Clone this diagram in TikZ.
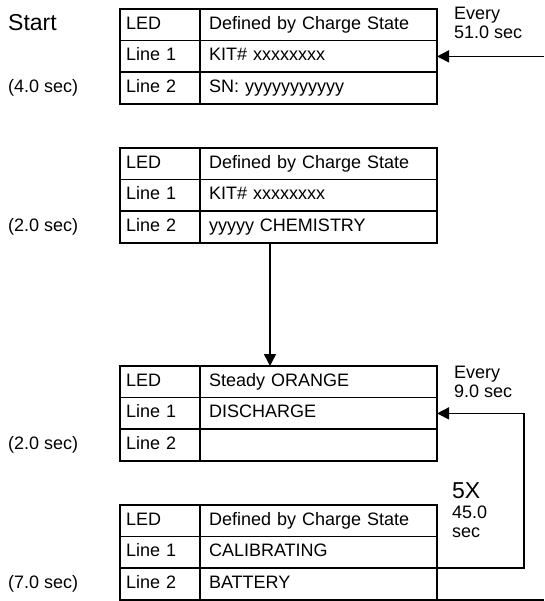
\documentclass[tikz,border=0pt]{standalone}
\usepackage{fontspec}
\setmainfont{Liberation Sans}
\usetikzlibrary{positioning}
\usetikzlibrary{arrows.meta}

\begin{document}
\begin{tikzpicture}[x=1pt,y=-1pt,node distance=0pt]
  \tikzstyle{keycell}=[rectangle,draw=black,line width=1.5pt,outer sep=0pt,inner xsep=6pt,inner ysep=0pt, minimum height=31.6pt, text width=68pt, text height=13pt, text depth=4pt, align=left, font=\fontsize{18}{20}\selectfont ]
  \tikzstyle{valcell}=[keycell, inner xsep=9pt, text width=219pt ]
  \tikzstyle{comment}=[inner sep=0pt, align=left, font=\fontsize{18}{19}\selectfont ]
  \tikzstyle{flow}=[line width=1.5pt, -{Triangle[length=12pt,width=12pt]} ]

  \useasboundingbox (0,0) rectangle (544,601);

  % first screen
  \node[keycell,anchor=north west] at (120,9) (A0) { LED };
  \node[valcell] (A0x) [right=of A0] { Defined by Charge State };
  \node[keycell] (A1) [below=of A0]  { Line 1 };
  \node[valcell] (A1x) [right=of A1] { KIT\# xxxxxxxx };
  \node[keycell] (A2) [below=of A1]  { Line 2 };
  \node[valcell] (A2x) [right=of A2] { SN: yyyyyyyyyyy };

  % second screen
  \node[keycell,anchor=north west] at (120,148) (B0) { LED };
  \node[valcell] (B0x) [right=of B0] { Defined by Charge State };
  \node[keycell] (B1) [below=of B0]  { Line 1 };
  \node[valcell] (B1x) [right=of B1] { KIT\# xxxxxxxx };
  \node[keycell] (B2) [below=of B1]  { Line 2 };
  \node[valcell] (B2x) [right=of B2] { yyyyy CHEMISTRY };

  % discharge
  \node[keycell,anchor=north west] at (120,366) (C0) { LED };
  \node[valcell] (C0x) [right=of C0] { Steady ORANGE };
  \node[keycell] (C1) [below=of C0]  { Line 1 };
  \node[valcell] (C1x) [right=of C1] { DISCHARGE };
  \node[keycell] (C2) [below=of C1]  { Line 2 };
  \node[valcell] (C2x) [right=of C2] { };

  % calibrating
  \node[keycell,anchor=north west] at (120,505) (D0) { LED };
  \node[valcell] (D0x) [right=of D0] { Defined by Charge State };
  \node[keycell] (D1) [below=of D0]  { Line 1 };
  \node[valcell] (D1x) [right=of D1] { CALIBRATING };
  \node[keycell] (D2) [below=of D1]  { Line 2 };
  \node[valcell] (D2x) [right=of D2] { BATTERY };

  % times
  \coordinate (lm) at (8,0);
  \node[comment,anchor=west,font=\fontsize{23}{25}\selectfont] (start) at (8,23) {Start};
  \node[comment,anchor=west] (tA) at (A2 -| lm) {(4.0 sec)};
  \node[comment,anchor=west] (tB) at (B2 -| lm) {(2.0 sec)};
  \node[comment,anchor=west] (tC) at (C2 -| lm) {(2.0 sec)};
  \node[comment,anchor=west] (tD) at (D2 -| lm) {(7.0 sec)};

  \node[comment,anchor=north west] (evA) at (454,7) {Every\\51.0 sec};
  \node[comment,anchor=north west] (evC) at (454,366) {Every\\9.0 sec};
  \node[comment,anchor=west,font=\fontsize{23}{25}\selectfont] (rep) at (452,491) {5X};
  \node[comment,anchor=north west] (repT) at (452,506) {45.0\\sec};

  % connectors
  \coordinate (inA) at (544,0);
  \coordinate (outD) at (544,0);
  \coordinate (loop) at (524,0);
  \draw[flow] (inA |- A1x.east) -- (A1x.east);
  \draw[flow] ([xshift=70pt]B2x.south west) -- ([xshift=70pt]C0x.north west);
  \draw[flow] (D1x.south east) -| (loop |- C1x.east) -- (C1x.east);
  \draw[line width=1.5pt] (D2x.south east) -- (outD |- D2x.south east);
\end{tikzpicture}
\end{document}
